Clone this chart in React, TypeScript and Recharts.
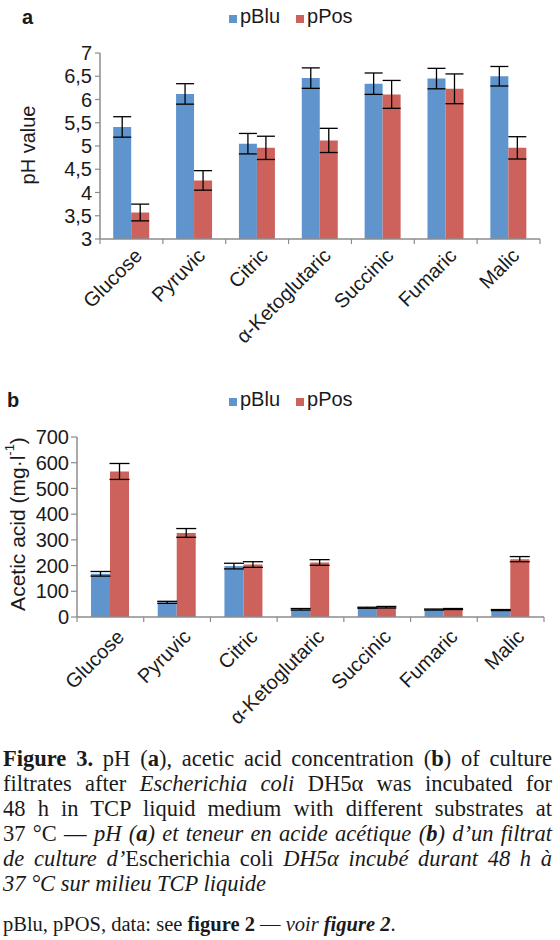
import { BarChart, Bar, XAxis, YAxis, ErrorBar, Legend } from 'recharts';

const substrates = ['Glucose', 'Pyruvic', 'Citric', 'α-Ketoglutaric', 'Succinic', 'Fumaric', 'Malic'];

// panel a: pH
const phBlu = [5.41, 6.12, 5.05, 6.46, 6.34, 6.45, 6.5];
const phBluErr = [0.22, 0.22, 0.22, 0.22, 0.23, 0.22, 0.21];
const phPos = [3.57, 4.26, 4.96, 5.12, 6.11, 6.23, 4.96];
const phPosErr = [0.18, 0.21, 0.25, 0.26, 0.3, 0.32, 0.24];
const phTicks = [3, 3.5, 4, 4.5, 5, 5.5, 6, 6.5, 7];

// panel b: acetic acid (mg/l)
const acetBlu = [168, 57, 198, 30, 36, 29, 27];
const acetBluErr = [9, 4, 11, 3, 2, 2, 2];
const acetPos = [566, 327, 204, 212, 38, 31, 225];
const acetPosErr = [31, 17, 11, 11, 3, 2, 10];
const acetTicks = [0, 100, 200, 300, 400, 500, 600, 700];

const phData = substrates.map((name, i) => ({
  name,
  pBlu: phBlu[i],
  pBluErr: phBluErr[i],
  pPos: phPos[i],
  pPosErr: phPosErr[i],
}));

const acetData = substrates.map((name, i) => ({
  name,
  pBlu: acetBlu[i],
  pBluErr: acetBluErr[i],
  pPos: acetPos[i],
  pPosErr: acetPosErr[i],
}));

const SANS = '"Liberation Sans", Arial, sans-serif';
const SERIF = '"Liberation Serif", "Times New Roman", serif';
const BLUE = '#5f95cc';
const RED = '#cd625c';
const AXIS = '#8c8c8c';
const INK = '#1a1a1a';

const CatTick = (props: any) => {
  const { x, y, payload, index, shiftX, shiftY, half, count } = props;
  const tx = x + shiftX;
  const ty = y + shiftY;
  return (
    <g>
      <line x1={x - half} x2={x - half} y1={y} y2={y + 5} stroke={AXIS} strokeWidth={1.2} />
      {index === count - 1 && (
        <line x1={x + half} x2={x + half} y1={y} y2={y + 5} stroke={AXIS} strokeWidth={1.2} />
      )}
      <text
        x={tx}
        y={ty}
        transform={`rotate(-45 ${tx} ${ty})`}
        textAnchor="end"
        fontSize={20}
        fontFamily={SANS}
        fill={INK}
      >
        {payload.value}
      </text>
    </g>
  );
};

const YTitle = ({ px, py, size, children }: any) => (
  <text
    x={px}
    y={py}
    transform={`rotate(-90 ${px} ${py})`}
    textAnchor="middle"
    dominantBaseline="central"
    fontSize={size}
    fontFamily={SANS}
    fill={INK}
  >
    {children}
  </text>
);

const makeLegend = (letter: string, letterX: number, top: number) => (props: any) => {
  const { payload } = props;
  return (
    <div style={{ position: 'relative', width: 560, height: 34, fontFamily: SANS, color: INK }}>
      <span
        style={{
          position: 'absolute',
          left: letterX,
          top: top + 1,
          fontSize: 20,
          lineHeight: '20px',
          fontWeight: 700,
        }}
      >
        {letter}
      </span>
      <div
        style={{
          position: 'absolute',
          left: 229,
          top,
          fontSize: 20,
          lineHeight: '20px',
          whiteSpace: 'nowrap',
        }}
      >
        {(payload || []).map((entry: any) => (
          <span key={entry.value} style={{ marginRight: 16 }}>
            <span
              style={{
                display: 'inline-block',
                width: 8,
                height: 8,
                background: entry.color,
                marginRight: 3,
              }}
            />
            {entry.value}
          </span>
        ))}
      </div>
    </div>
  );
};

const CHART_W = 560;

const PhChart = () => {
  const left = 100;
  const right = 20;
  const half = (CHART_W - left - right) / substrates.length / 2;
  return (
    <BarChart
      width={CHART_W}
      height={360}
      data={phData}
      margin={{ top: 53, right, bottom: 0, left: 0 }}
      barCategoryGap="21%"
      barGap={0}
    >
      <Legend
        layout="horizontal"
        verticalAlign="middle"
        align="center"
        wrapperStyle={{ top: 0, left: 0, width: 560 }}
        content={makeLegend('a', 22, 6)}
      />
      <XAxis
        dataKey="name"
        interval={0}
        tickLine={false}
        tickSize={0}
        tickMargin={0}
        height={121}
        axisLine={{ stroke: AXIS, strokeWidth: 1.5 }}
        tick={<CatTick shiftX={12} shiftY={18} half={half} count={substrates.length} />}
      />
      <YAxis
        type="number"
        domain={[3, 7]}
        ticks={phTicks}
        interval={0}
        width={left}
        tickSize={5}
        tickMargin={3}
        tickFormatter={(v: number) => String(v).replace('.', ',')}
        tick={{ fontSize: 20, fill: INK, fontFamily: SANS }}
        axisLine={{ stroke: AXIS, strokeWidth: 1.5 }}
        tickLine={{ stroke: AXIS, strokeWidth: 1.2 }}
        label={<YTitle px={28} py={145} size={20}>pH value</YTitle>}
      />
      <Bar dataKey="pBlu" name="pBlu" fill={BLUE} isAnimationActive={false}>
        <ErrorBar dataKey="pBluErr" width={9} stroke="#000" strokeWidth={1.3} />
      </Bar>
      <Bar dataKey="pPos" name="pPos" fill={RED} isAnimationActive={false}>
        <ErrorBar dataKey="pPosErr" width={9} stroke="#000" strokeWidth={1.3} />
      </Bar>
    </BarChart>
  );
};

const AcetChart = () => {
  const left = 77;
  const right = 16;
  const half = (CHART_W - left - right) / substrates.length / 2;
  return (
    <BarChart
      width={CHART_W}
      height={360}
      data={acetData}
      margin={{ top: 57, right, bottom: 0, left: 0 }}
      barCategoryGap="21%"
      barGap={0}
    >
      <Legend
        layout="horizontal"
        verticalAlign="middle"
        align="center"
        wrapperStyle={{ top: 0, left: 0, width: 560 }}
        content={makeLegend('b', 7, 9)}
      />
      <XAxis
        dataKey="name"
        interval={0}
        tickLine={false}
        tickSize={0}
        tickMargin={0}
        height={123}
        axisLine={{ stroke: AXIS, strokeWidth: 1.5 }}
        tick={<CatTick shiftX={15} shiftY={21} half={half} count={substrates.length} />}
      />
      <YAxis
        type="number"
        domain={[0, 700]}
        ticks={acetTicks}
        interval={0}
        width={left}
        tickSize={6}
        tickMargin={2}
        tick={{ fontSize: 20, fill: INK, fontFamily: SANS }}
        axisLine={{ stroke: AXIS, strokeWidth: 1.5 }}
        tickLine={{ stroke: AXIS, strokeWidth: 1.2 }}
        label={
          <YTitle px={17} py={144} size={21}>
            Acetic acid (mg·l
            <tspan dy={-8} fontSize={13}>-1</tspan>
            <tspan dy={8}>)</tspan>
          </YTitle>
        }
      />
      <Bar dataKey="pBlu" name="pBlu" fill={BLUE} isAnimationActive={false}>
        <ErrorBar dataKey="pBluErr" width={10} stroke="#000" strokeWidth={1.3} />
      </Bar>
      <Bar dataKey="pPos" name="pPos" fill={RED} isAnimationActive={false}>
        <ErrorBar dataKey="pPosErr" width={10} stroke="#000" strokeWidth={1.3} />
      </Bar>
    </BarChart>
  );
};

const lineStyle = {
  textAlign: 'justify' as const,
  textAlignLast: 'justify' as const,
  whiteSpace: 'nowrap' as const,
  height: 25,
};

const App = () => {
  return (
    <div
      style={{
        position: 'absolute',
        left: 0,
        top: 0,
        width: 560,
        height: 940,
        overflow: 'hidden',
        background: '#fff',
      }}
    >
      <div style={{ position: 'absolute', left: 0, top: 0 }}>
        <PhChart />
      </div>
      <div style={{ position: 'absolute', left: 0, top: 380 }}>
        <AcetChart />
      </div>
      <div
        style={{
          position: 'absolute',
          left: 3,
          top: 746,
          width: 549,
          fontFamily: SERIF,
          fontSize: 22.5,
          lineHeight: '25px',
          color: INK,
        }}
      >
        <div style={lineStyle}>
          <b>Figure 3.</b> pH (<b>a</b>), acetic acid concentration (<b>b</b>) of culture
        </div>
        <div style={lineStyle}>
          filtrates after <i>Escherichia coli</i> DH5α was incubated for
        </div>
        <div style={lineStyle}>48 h in TCP liquid medium with different substrates at</div>
        <div style={lineStyle}>
          37 °C — <i>pH (<b>a</b>) et teneur en acide acétique (<b>b</b>) d’un filtrat</i>
        </div>
        <div style={lineStyle}>
          <i>de culture d’</i>Escherichia coli <i>DH5α incubé durant 48 h à</i>
        </div>
        <div style={{ height: 25, whiteSpace: 'nowrap' }}>
          <i>37 °C sur milieu TCP liquide</i>
        </div>
      </div>
      <div
        style={{
          position: 'absolute',
          left: 3,
          top: 912,
          fontFamily: SERIF,
          fontSize: 20.5,
          lineHeight: '25px',
          color: INK,
          whiteSpace: 'nowrap',
        }}
      >
        pBlu, pPOS, data: see <b>figure 2</b> — <i>voir <b>figure 2</b></i>.
      </div>
    </div>
  );
};

export default App;
